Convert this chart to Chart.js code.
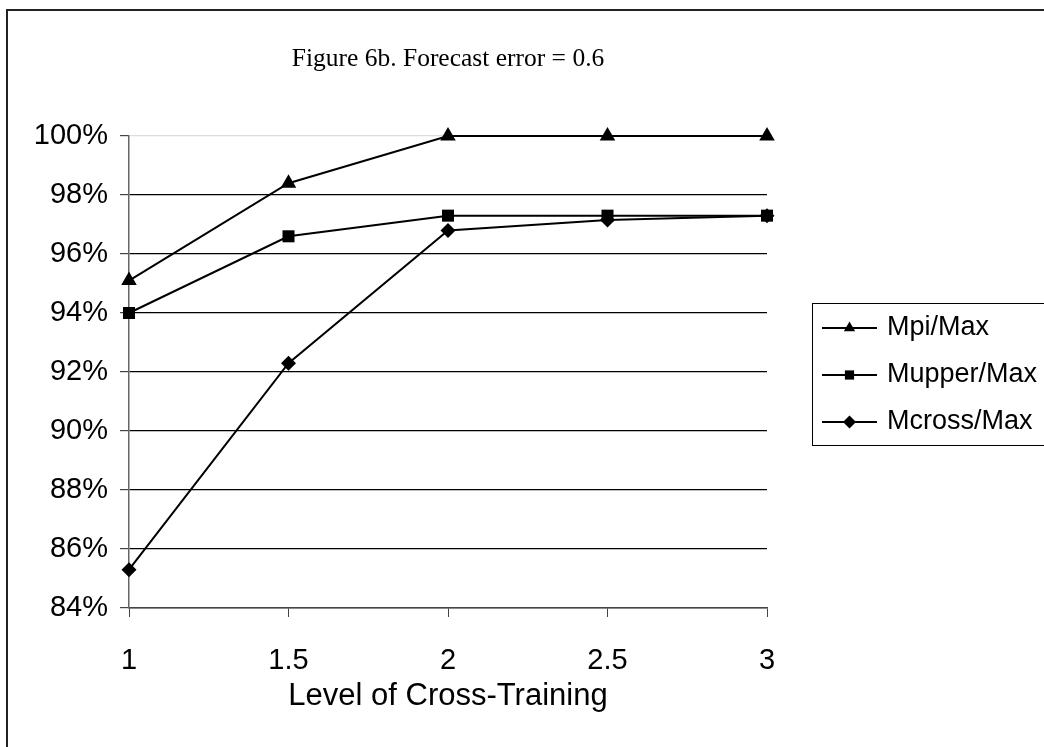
<!DOCTYPE html>
<html>
<head>
<meta charset="utf-8">
<script src="https://cdn.jsdelivr.net/npm/chart.js@4.4.0/dist/chart.umd.min.js"></script>
<style>
  html, body { margin: 0; padding: 0; background: #fff; }
  #wrap { width: 1044px; height: 747px; position: relative; }
</style>
</head>
<body>
<div id="wrap"><canvas id="myChart"></canvas></div>
<script>
// datos
const levels = ['1', '1.5', '2', '2.5', '3'];
const mpiMax = [95.1, 98.4, 100, 100, 100];
const mupperMax = [94.0, 96.6, 97.3, 97.3, 97.3];
const mcrossMax = [85.3, 92.3, 96.8, 97.15, 97.3];
const seriesNames = ['Mpi/Max', 'Mupper/Max', 'Mcross/Max'];
const yMin = 84, yMax = 100, yStep = 2;

function marker(ctx, style, x, y, r) {
  ctx.beginPath();
  if (style === 'triangle') {
    ctx.moveTo(x, y - r);
    ctx.lineTo(x + r * 0.87, y + r * 0.5);
    ctx.lineTo(x - r * 0.87, y + r * 0.5);
  } else if (style === 'rect') {
    let s = r * 0.71;
    ctx.rect(x - s, y - s, 2 * s, 2 * s);
  } else {
    ctx.moveTo(x, y - r);
    ctx.lineTo(x + r, y);
    ctx.lineTo(x, y + r);
    ctx.lineTo(x - r, y);
  }
  ctx.closePath();
  ctx.fill();
}

// leyenda con recuadro y marco exterior
const frame = {
  id: 'frame',
  afterDraw(chart) {
    const ctx = chart.ctx;
    ctx.save();
    ctx.strokeStyle = '#222';
    ctx.lineWidth = 2;
    ctx.strokeRect(7, 10, 1100, 800);

    ctx.lineWidth = 1;
    ctx.strokeStyle = '#000';
    ctx.strokeRect(812.5, 303.5, 300, 142);
    ctx.fillStyle = '#000';
    ctx.font = '27px "Liberation Sans", Arial, sans-serif';
    ctx.textBaseline = 'middle';
    chart.data.datasets.forEach((ds, i) => {
      let y = 328 + i * 47;
      ctx.beginPath();
      ctx.lineWidth = 2;
      ctx.moveTo(822, y);
      ctx.lineTo(877, y);
      ctx.stroke();
      marker(ctx, ds.pointStyle, 849.5, y, 6.5);
      ctx.fillText(ds.label, 887, y);
    });
    ctx.restore();
  }
};

let ctx = document.getElementById('myChart').getContext('2d');

let myChart = new Chart(ctx, {
  type: 'line',
  data: {
    labels: levels,
    datasets: [
      { label: seriesNames[0], data: mpiMax, pointStyle: 'triangle', pointRadius: 9 },
      { label: seriesNames[1], data: mupperMax, pointStyle: 'rect', pointRadius: 8.5 },
      { label: seriesNames[2], data: mcrossMax, pointStyle: 'rectRot', pointRadius: 7.5 }
    ].map(d => Object.assign(d, {
      borderColor: '#000',
      backgroundColor: '#000',
      pointBackgroundColor: '#000',
      pointBorderColor: '#000',
      pointBorderWidth: 0,
      borderWidth: 2,
      tension: 0,
      fill: false,
      clip: false
    }))
  },
  options: {
    responsive: true,
    maintainAspectRatio: false,
    animation: false,
    layout: { padding: { left: 0, right: 277, top: 0, bottom: 0 } },
    plugins: {
      legend: { display: false },
      tooltip: { enabled: false },
      title: {
        display: true,
        fullSize: false,
        text: 'Figure 6b. Forecast error = 0.6',
        color: '#000',
        font: { family: '"Liberation Serif", "Times New Roman", serif', size: 25.5, weight: 'normal' },
        padding: { top: 43.5, bottom: 61.9 }
      }
    },
    scales: {
      x: {
        type: 'category',
        offset: false,
        afterFit: s => { s.height = 139; },
        grid: { drawOnChartArea: false, drawTicks: true, tickLength: 9, tickColor: '#444', offset: false },
        border: { color: '#444', width: 1.5 },
        ticks: {
          color: '#000',
          padding: 27,
          maxRotation: 0,
          font: { family: '"Liberation Sans", Arial, sans-serif', size: 29 }
        },
        title: {
          display: true,
          text: 'Level of Cross-Training',
          color: '#000',
          font: { family: '"Liberation Sans", Arial, sans-serif', size: 31 },
          padding: { top: 0, bottom: 32 }
        }
      },
      y: {
        min: yMin,
        max: yMax,
        afterFit: s => { s.width = 129; },
        grid: {
          color: c => (c.tick && c.tick.value === yMax) ? '#dcdcdc' : (c.tick && c.tick.value === yMin ? '#444' : '#000'),
          tickColor: '#444',
          tickLength: 9,
          lineWidth: 1.2
        },
        border: { color: '#666', width: 1.5 },
        ticks: {
          stepSize: yStep,
          color: '#000',
          padding: 12,
          font: { family: '"Liberation Sans", Arial, sans-serif', size: 29 },
          callback: v => v + '%'
        }
      }
    }
  },
  plugins: [frame]
});
</script>
</body>
</html>
